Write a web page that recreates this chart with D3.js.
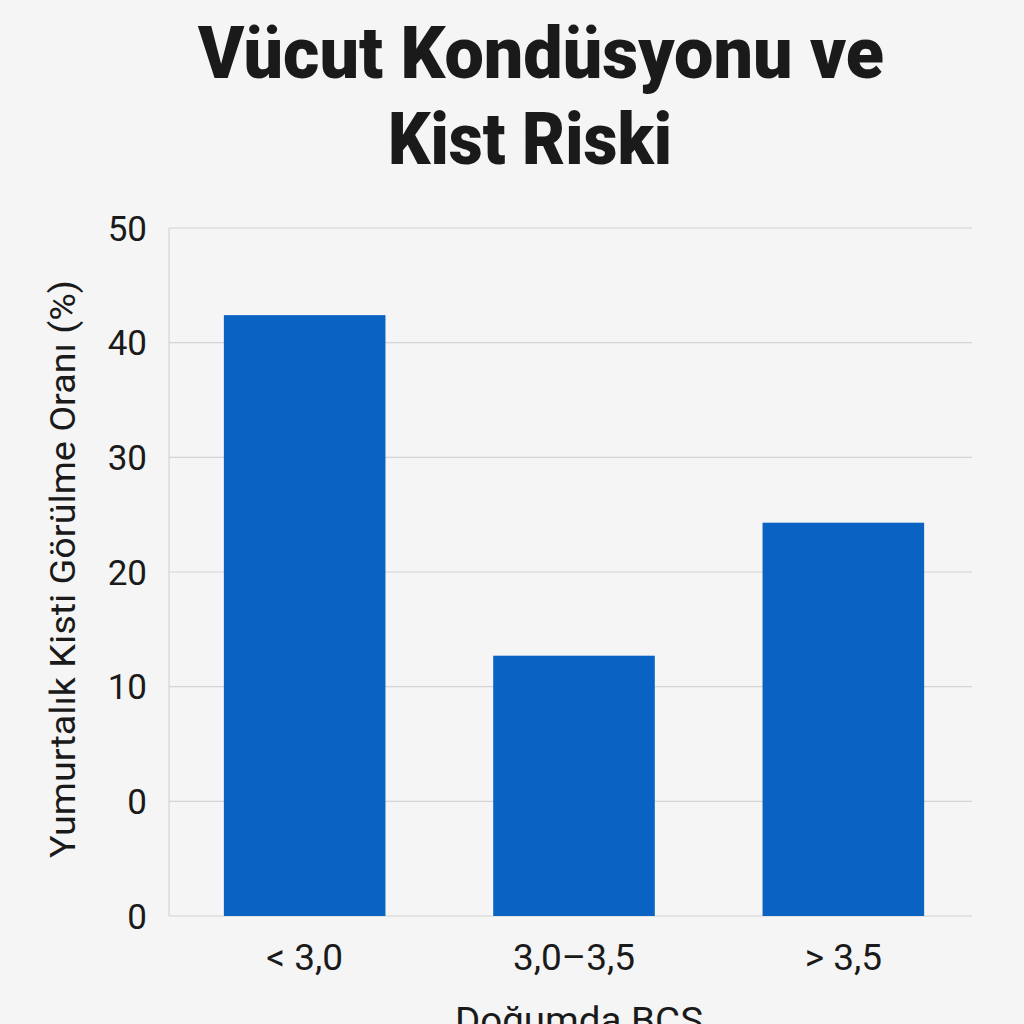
<!DOCTYPE html>
<html><head><meta charset="utf-8">
<script src="https://cdn.jsdelivr.net/npm/d3@7"></script>
<style>html,body{margin:0;padding:0;background:#f5f5f5;}svg{display:block;}</style>
</head><body>
<script>
const categories = ["< 3,0", "3,0–3,5", "> 3,5"];
const values = [42.4, 12.7, 24.3];
const tickValues = [50, 40, 30, 20, 10, 0, -10];
const tickLabels = ["50", "40", "30", "20", "10", "0", "0"];
const titleLines = ["Vücut Kondüsyonu ve", "Kist Riski"];
const yTitle = "Yumurtalık Kisti Görülme Oranı (%)";
const xTitle = "Doğumda BCS";

const W = 1024, H = 1024;
const svg = d3.select("body").append("svg").attr("width", W).attr("height", H);
svg.append("rect").attr("width", W).attr("height", H).attr("fill", "#f5f5f5");

const plotLeft = 169, plotRight = 972, plotTop = 228, plotBottom = 916;
const y = d3.scaleLinear().domain([-10, 50]).range([plotBottom, plotTop]);
const x = d3.scaleBand().domain(categories).range([170, 978]).paddingInner(0.4).paddingOuter(0.2);

const font = "Roboto, 'Liberation Sans', sans-serif";

// gridlines
svg.append("g").selectAll("line").data(tickValues).join("line")
  .attr("x1", plotLeft).attr("x2", plotRight)
  .attr("y1", d => y(d)).attr("y2", d => y(d))
  .attr("stroke", "#d4d4d4").attr("stroke-width", 1.2);
// left axis line
svg.append("line").attr("x1", plotLeft).attr("x2", plotLeft)
  .attr("y1", plotTop).attr("y2", plotBottom)
  .attr("stroke", "#d4d4d4").attr("stroke-width", 1.2);

// y tick labels
svg.append("g").selectAll("text").data(tickValues).join("text")
  .attr("x", 147).attr("y", d => y(d)).attr("dy", "0.36em")
  .attr("text-anchor", "end").attr("font-family", font).attr("font-size", 35)
  .attr("fill", "#1a1a1a").text((d, i) => tickLabels[i]);

// bars
svg.append("g").selectAll("rect").data(values).join("rect")
  .attr("x", (d, i) => x(categories[i]))
  .attr("width", x.bandwidth())
  .attr("y", d => y(d))
  .attr("height", d => y(-10) - y(d))
  .attr("fill", "#0a63c3");

// x tick labels
svg.append("g").selectAll("text").data(categories).join("text")
  .attr("x", d => x(d) + x.bandwidth() / 2).attr("y", 970)
  .attr("text-anchor", "middle").attr("font-family", font).attr("font-size", 37)
  .attr("fill", "#1a1a1a").text(d => d);

// x title
svg.append("text").attr("x", 579).attr("y", 1033)
  .attr("text-anchor", "middle").attr("font-family", font).attr("font-size", 36)
  .attr("fill", "#1a1a1a").attr("textLength", 248).attr("lengthAdjust", "spacingAndGlyphs")
  .text(xTitle);

// y title
svg.append("text").attr("transform", "translate(75,569) rotate(-90)")
  .attr("text-anchor", "middle").attr("font-family", font).attr("font-size", 35)
  .attr("fill", "#1a1a1a").attr("textLength", 578).attr("lengthAdjust", "spacingAndGlyphs")
  .text(yTitle);

// title
const tw = [686, 284];
const tx = [541, 530];
svg.append("g").selectAll("text").data(titleLines).join("text")
  .attr("x", (d, i) => tx[i]).attr("y", (d, i) => 78 + i * 86)
  .attr("text-anchor", "middle").attr("font-family", font).attr("font-weight", 900)
  .attr("font-size", 73).attr("fill", "#1a1a1a")
  .attr("textLength", (d, i) => tw[i]).attr("lengthAdjust", "spacingAndGlyphs")
  .text(d => d);
</script>
</body></html>
